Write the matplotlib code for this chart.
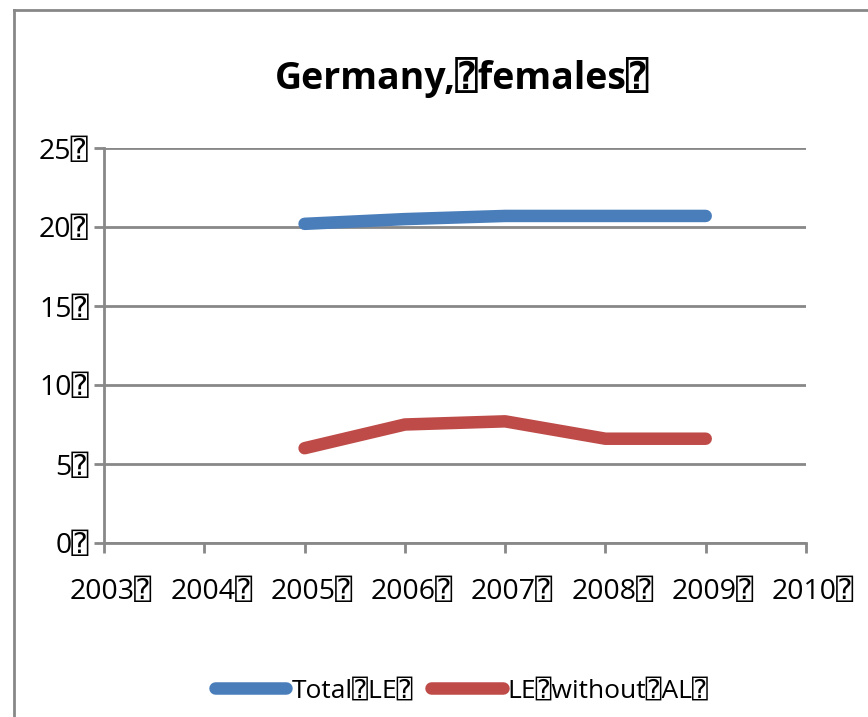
import matplotlib
matplotlib.use("Agg")
import matplotlib.pyplot as plt
import matplotlib.transforms as mtransforms
from matplotlib.lines import Line2D

B = "\u2370"
years = [2005, 2006, 2007, 2008, 2009]
total_le = [20.2, 20.5, 20.7, 20.7, 20.7]
le_without_al = [6.0, 7.5, 7.7, 6.6, 6.6]
x_ticks = [2003, 2004, 2005, 2006, 2007, 2008, 2009, 2010]
y_ticks = [0, 5, 10, 15, 20, 25]
title = "Germany," + B + "females" + B
series_names = ["Total" + B + "LE" + B, "LE" + B + "without" + B + "AL" + B]

plt.rcParams['font.family'] = ['Open Sans', 'DejaVu Sans Mono', 'DejaVu Sans']

fig = plt.figure(figsize=(8.68, 7.17), dpi=100)
ax = fig.add_axes([104/868, 1-543/717, (806-104)/868, (543-148)/717])

grey = "#888888"
blue = "#4A7EBB"
red = "#BE4B48"

ax.plot(years, total_le, color=blue, lw=9, solid_capstyle='round', solid_joinstyle='round', zorder=3)
ax.plot(years, le_without_al, color=red, lw=9, solid_capstyle='round', solid_joinstyle='round', zorder=3)

ax.set_xlim(2003, 2010)
ax.set_ylim(0, 25)
ax.set_xticks(x_ticks)
ax.set_xticklabels([f"{y}{B}" for y in x_ticks])
ax.set_yticks(y_ticks)
ax.set_yticklabels([f"{v}{B}" for v in y_ticks])
for s in ['top', 'right']:
    ax.spines[s].set_visible(False)
for s in ['left', 'bottom']:
    ax.spines[s].set_color(grey)
    ax.spines[s].set_linewidth(2)
ax.yaxis.grid(True, color=grey, lw=2)
ax.set_axisbelow(True)
ax.tick_params(axis='both', colors=grey, width=2, length=7, labelcolor='black', labelsize=20.5)
ax.tick_params(axis='x', pad=18)
ax.tick_params(axis='y', pad=4)

shift = mtransforms.ScaledTranslation(7/100, 0, fig.dpi_scale_trans)
for lbl in ax.get_xticklabels():
    lbl.set_transform(lbl.get_transform() + shift)

fig.text(0.532, 1-77/717, title, ha='center', va='center', fontsize=27, fontweight='bold')

handles = [Line2D([0], [0], color=blue, lw=9, solid_capstyle='round'),
           Line2D([0], [0], color=red, lw=9, solid_capstyle='round')]
fig.legend(handles, series_names, loc='center', bbox_to_anchor=(0.532, 1-691/717), ncol=2,
           frameon=False, fontsize=19, handlelength=2.7, handletextpad=0.2, columnspacing=0.7)

fig.add_artist(Line2D([14/868, 14/868], [0, 1-10/717], transform=fig.transFigure, color=grey, lw=2))
fig.add_artist(Line2D([14/868, 1], [1-10/717, 1-10/717], transform=fig.transFigure, color=grey, lw=2))

fig.savefig("out.png", dpi=100)
